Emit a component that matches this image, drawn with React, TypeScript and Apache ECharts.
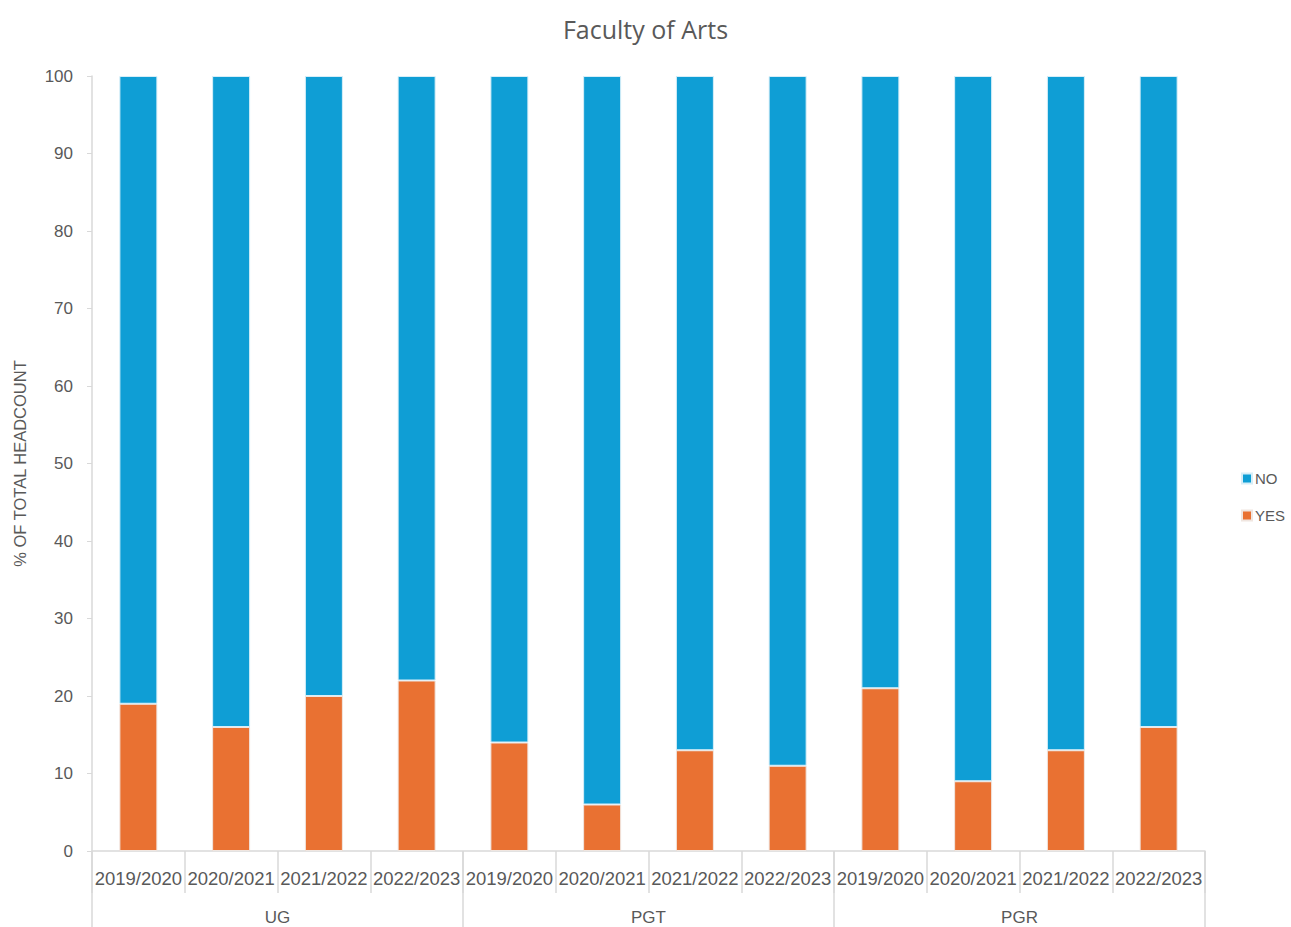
import React, { useEffect, useRef } from "react";
import * as echarts from "echarts";

const years = [
  "2019/2020", "2020/2021", "2021/2022", "2022/2023",
  "2019/2020", "2020/2021", "2021/2022", "2022/2023",
  "2019/2020", "2020/2021", "2021/2022", "2022/2023",
];
const groups = ["UG", "PGT", "PGR"];
const yesValues = [19, 16, 20, 22, 14, 6, 13, 11, 21, 9, 13, 16];
const noValues = [81, 84, 80, 78, 86, 94, 87, 89, 79, 91, 87, 84];
const yTicks = [0, 10, 20, 30, 40, 50, 60, 70, 80, 90, 100];

const TEXT = "#595959";
const LINE = "#d9d9d9";
const FONT = "'Liberation Sans', Arial, sans-serif";

export default function App() {
  const ref = useRef<HTMLDivElement>(null);
  useEffect(() => {
    if (!ref.current) return;
    const chart = echarts.init(ref.current, null, { renderer: "svg" });
    chart.setOption({
      animation: false,
      textStyle: { fontFamily: FONT },
      title: {
        text: "Faculty of Arts",
        left: "center",
        top: 11,
        textStyle: { color: TEXT, fontSize: 25, fontWeight: "normal", fontFamily: "'Open Sans', sans-serif" },
      },
      legend: {
        orient: "vertical",
        left: 1236,
        top: 466,
        itemWidth: 10,
        itemHeight: 10,
        itemGap: 22,
        icon: "rect",
        data: ["NO", "YES"],
        textStyle: { color: TEXT, fontSize: 15, padding: [0, 0, 0, -2] },
      },
      grid: { left: 92, right: 86, top: 76, bottom: 76, containLabel: false },
      xAxis: [
        {
          type: "category",
          data: years,
          position: "bottom",
          axisLine: { show: true, lineStyle: { color: LINE, width: 1.5 } },
          axisTick: { show: true, interval: 0, length: 42, lineStyle: { color: LINE, width: 1.5 } },
          axisLabel: { interval: 0, color: TEXT, fontSize: 18.5, margin: 18 },
        },
        {
          type: "category",
          data: groups,
          position: "bottom",
          axisLine: { show: false },
          axisTick: { show: true, interval: 0, length: 76, lineStyle: { color: LINE, width: 1.5 } },
          axisLabel: { interval: 0, color: TEXT, fontSize: 17, margin: 58 },
        },
      ],
      yAxis: {
        type: "value",
        min: 0,
        max: 100,
        interval: 10,
        name: "% OF TOTAL HEADCOUNT",
        nameLocation: "middle",
        nameGap: 64,
        nameRotate: 90,
        nameTextStyle: { color: TEXT, fontSize: 16.5 },
        splitLine: { show: false },
        axisLine: { show: true, lineStyle: { color: LINE, width: 1.5 } },
        axisTick: { show: true, length: 5, lineStyle: { color: LINE } },
        axisLabel: {
          color: TEXT,
          fontSize: 17,
          margin: 19,
          formatter: (v: number) => (yTicks.includes(v) ? String(v) : ""),
        },
      },
      series: [
        {
          name: "YES",
          type: "bar",
          stack: "total",
          data: yesValues,
          barWidth: 38,
          itemStyle: { color: "#e97132", borderColor: "#f0e6e0", borderWidth: 1 },
        },
        {
          name: "NO",
          type: "bar",
          stack: "total",
          data: noValues,
          barWidth: 38,
          itemStyle: { color: "#0f9ed5", borderColor: "#d6eef8", borderWidth: 1 },
        },
      ],
    });
    return () => chart.dispose();
  }, []);
  return <div ref={ref} style={{ width: 1291, height: 927, position: "absolute", left: 0, top: 0 }} />;
}
